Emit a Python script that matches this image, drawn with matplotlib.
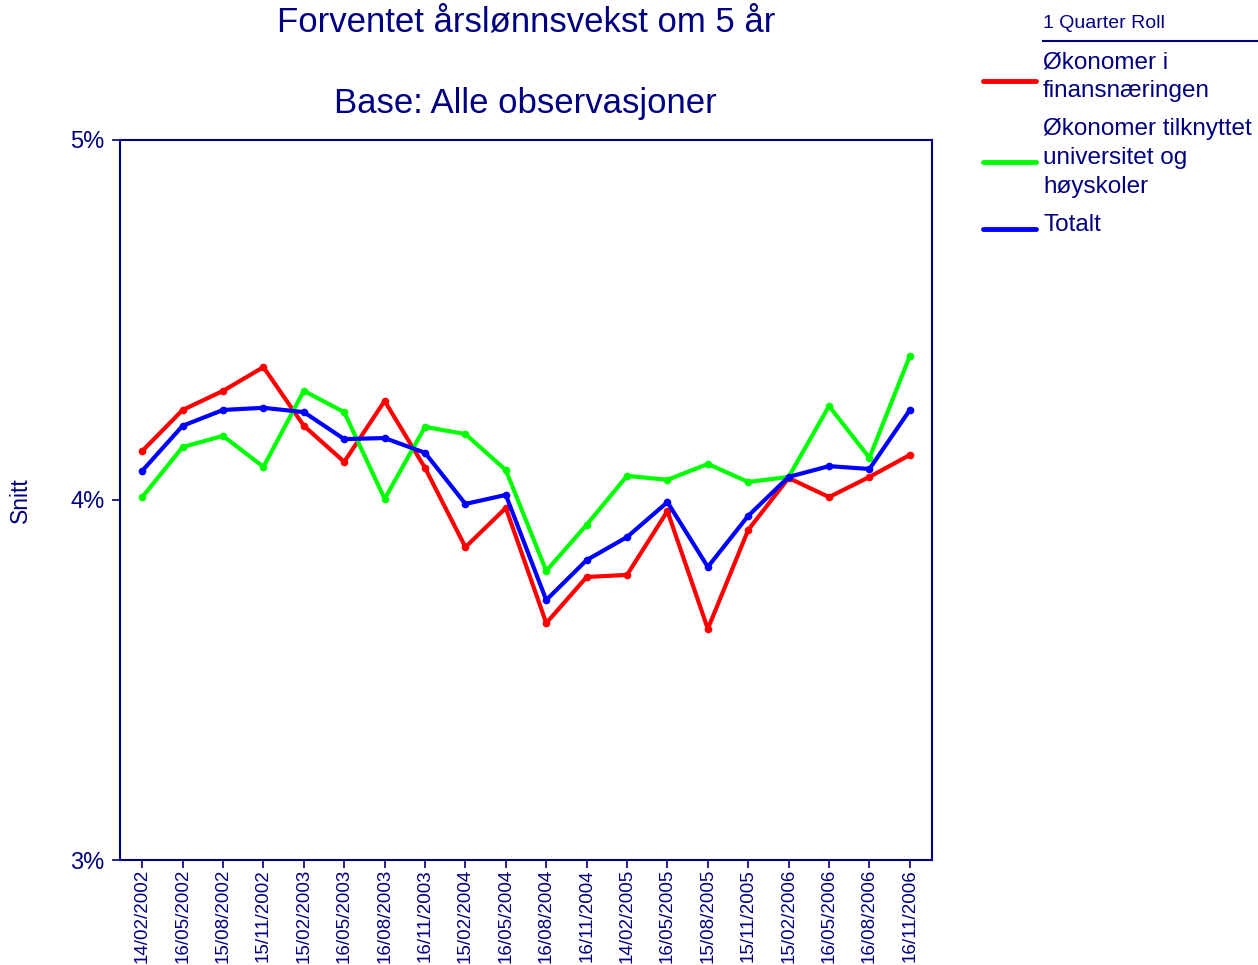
import matplotlib.pyplot as plt
from matplotlib.lines import Line2D

plt.rcParams['font.family'] = ['Liberation Sans', 'DejaVu Sans']

navy = '#000080'

dates = ['14/02/2002', '16/05/2002', '15/08/2002', '15/11/2002', '15/02/2003',
         '16/05/2003', '16/08/2003', '16/11/2003', '15/02/2004', '16/05/2004',
         '16/08/2004', '16/11/2004', '14/02/2005', '16/05/2005', '15/08/2005',
         '15/11/2005', '15/02/2006', '16/05/2006', '16/08/2006', '16/11/2006']

# average expected wage growth, percent
finans = [4.136, 4.250, 4.303, 4.369, 4.206, 4.106, 4.275, 4.089, 3.869, 3.978,
          3.658, 3.786, 3.792, 3.969, 3.642, 3.917, 4.061, 4.008, 4.064, 4.125]
univ = [4.008, 4.147, 4.178, 4.092, 4.303, 4.244, 4.003, 4.203, 4.183, 4.083,
        3.803, 3.931, 4.067, 4.056, 4.100, 4.050, 4.064, 4.261, 4.117, 4.400]
totalt = [4.081, 4.206, 4.250, 4.256, 4.244, 4.169, 4.172, 4.131, 3.989, 4.014,
          3.722, 3.833, 3.897, 3.994, 3.814, 3.956, 4.064, 4.094, 4.086, 4.250]

series = [('Økonomer i\nfinansnæringen', finans, '#ff0000'),
          ('Økonomer tilknyttet\nuniversitet og\nhøyskoler', univ, '#00ff00'),
          ('Totalt', totalt, '#0000ff')]

fig = plt.figure(figsize=(12.58, 9.65), dpi=100)
ax = fig.add_axes([0.0954, 0.1088, 0.6455, 0.7462])

x = list(range(len(dates)))
for name, vals, col in series:
    ax.plot(x, vals, color=col, lw=3, marker='o', ms=4.5, solid_joinstyle='round')

ax.set_xlim(-0.55, len(dates) - 0.45)
ax.set_ylim(3, 5)
ax.set_yticks([3, 4, 5])
ax.set_yticklabels(['3%', '4%', '5%'])
ax.set_xticks(x)
ax.set_xticklabels(dates, rotation=90)
ax.tick_params(axis='y', colors=navy, labelcolor=navy, labelsize=17, length=6, width=1.2, pad=5)
ax.tick_params(axis='x', colors=navy, labelcolor=navy, labelsize=13.5, length=6, width=1.2, pad=0.5)
for s in ax.spines.values():
    s.set_color(navy)
    s.set_linewidth(1.5)

fig.text(20 / 1258, 1 - 500 / 965, 'Snitt', rotation=90, ha='center', va='center',
         color=navy, fontsize=16.5)

fig.text(0.418, 1 - 22 / 965, 'Forventet årslønnsvekst om 5 år', ha='center', va='center',
         color=navy, fontsize=25)
fig.text(0.418, 1 - 103 / 965, 'Base: Alle observasjoner', ha='center', va='center',
         color=navy, fontsize=25)

# legend drawn by hand
fig.text(1043 / 1258, 1 - 23 / 965, '1 Quarter Roll', ha='left', va='center',
         color=navy, fontsize=14)
fig.add_artist(Line2D([1043 / 1258, 1.0], [1 - 41 / 965] * 2, color=navy, lw=1.5))
leg_y = [77, 158, 225]
for (name, vals, col), yy in zip(series, leg_y):
    fig.add_artist(Line2D([983 / 1258, 1036 / 1258], [1 - (yy + 4) / 965] * 2,
                          color=col, lw=3.5, solid_capstyle='round'))
    fig.text(1043 / 1258, 1 - yy / 965, name, ha='left', va='center', color=navy,
             fontsize=17.5, linespacing=1.4)

fig.savefig('out.png', dpi=100)
